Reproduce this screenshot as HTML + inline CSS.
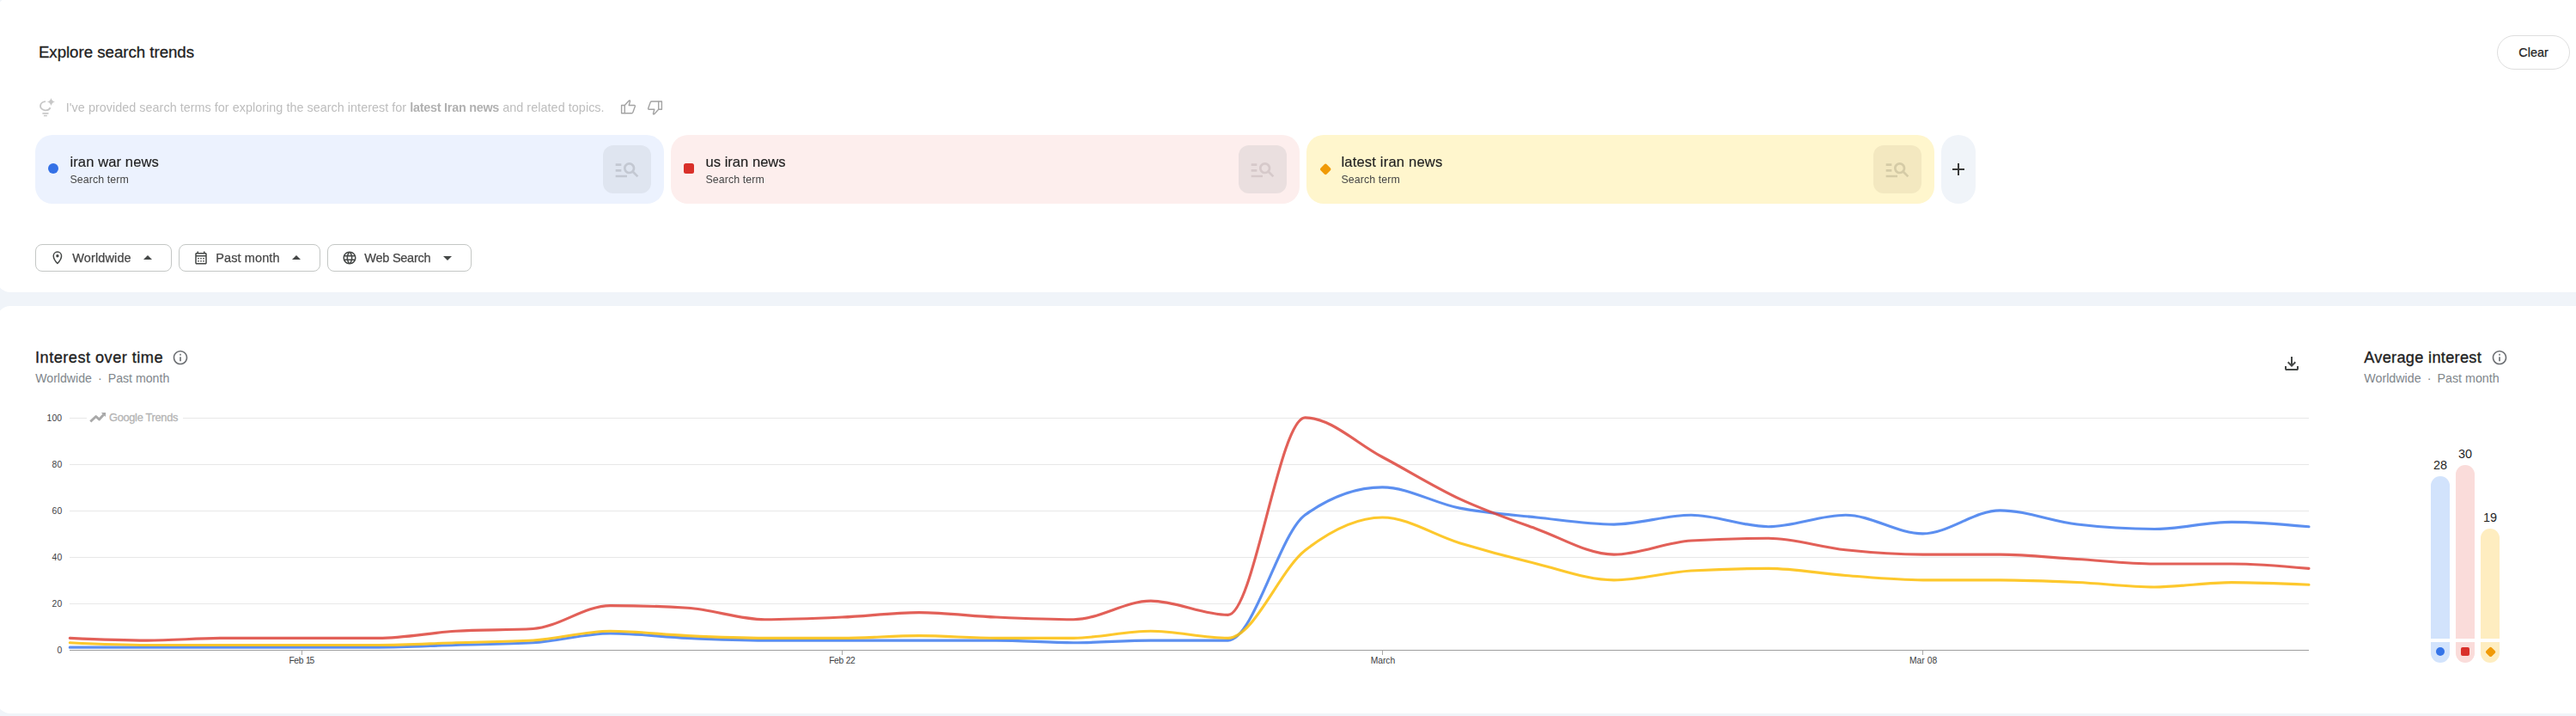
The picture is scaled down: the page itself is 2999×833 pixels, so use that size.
<!DOCTYPE html>
<html><head><meta charset="utf-8"><title>Trends</title>
<style>
html,body{margin:0;padding:0}
body{width:2999px;height:833px;overflow:hidden;background:#f0f4f9;position:relative;font-family:"Liberation Sans", sans-serif;}
.abs{position:absolute;display:block}
.t{position:absolute;white-space:nowrap;font-family:"Liberation Sans", sans-serif;}
b{font-weight:700;color:#b1b1b1;letter-spacing:-0.24px}
</style></head><body>
<div class="abs" style="left:-4.500px;top:-3px;width:3020px;height:343px;background:#fff;border-radius:16px"></div>
<div class="abs" style="left:-4.500px;top:356px;width:3020px;height:474px;background:#fff;border-radius:16px"></div>
<div class="t" style="top:52.37px;font-size:18.7px;line-height:18.7px;color:#1f1f1f;font-weight:400;letter-spacing:-0.03px;left:44.90px;-webkit-text-stroke:0.3px #1f1f1f;">Explore search trends</div>
<div class="abs" style="left:2907px;top:41px;width:83px;height:38px;border:1px solid #dedede;border-radius:20px"></div>
<div class="t" style="top:53.81px;font-size:14.4px;line-height:14.4px;color:#1f1f1f;font-weight:400;left:2749.50px;width:400px;text-align:center;-webkit-text-stroke:0.25px #1f1f1f;">Clear</div>
<svg class="abs" style="left:44px;top:110px" width="24" height="28" viewBox="0 0 24 28">
<g fill="none" stroke="#c7c7c7" stroke-linecap="butt">
<path stroke-width="1.9" d="M8.970 8.100 A6.050 5.100 0 1 0 14.600 15.300"/>
<path stroke-width="1.7" d="M5.400 21.950 H12.500"/><path stroke-width="1.5" d="M6.900 24.600 H10.800" />
</g>
<path fill="#c7c7c7" d="M15.460 3.900 Q16.300 7.650 20.060 8.500 Q16.300 9.350 15.460 13.100 Q14.620 9.350 10.860 8.500 Q14.620 7.650 15.460 3.900z"/>
</svg>
<div class="t" style="top:118.14px;font-size:14.36px;line-height:14.36px;color:#bdbdbd;font-weight:400;letter-spacing:0.02px;left:76.80px;filter:grayscale(1);"><span style="letter-spacing:0.04px">I&#39;ve provided search terms for exploring the search interest for </span><b>latest Iran news</b><span style="letter-spacing:0.06px"> and related topics.</span></div>
<svg class="abs" style="left:700px;top:100px" width="100" height="50" viewBox="0 0 100 50">
<g fill="none" stroke="#a3a3a3" stroke-width="1.400" stroke-linejoin="round">
<g><rect x="23.600" y="22.560" width="3.700" height="9.240"/><path d="M27.300 22.560 L32.400 17.100 Q33.500 16.500 33.500 17.700 L32.200 22.560 H38.300 Q39.700 22.560 39.250 24 L36.800 30.800 Q36.400 31.800 35.400 31.800 H27.300"/></g>
<g transform="translate(31.100,1.150) rotate(180 31.450 24.350)"><rect x="23.600" y="22.560" width="3.700" height="9.240"/><path d="M27.300 22.560 L32.400 17.100 Q33.500 16.500 33.500 17.700 L32.200 22.560 H38.300 Q39.700 22.560 39.250 24 L36.800 30.800 Q36.400 31.800 35.400 31.800 H27.300"/></g>
</g>
</svg>
<div class="abs" style="left:41px;top:157px;width:731.7px;height:80px;border-radius:20px;background:#ecf2fe"></div><div class="abs" style="left:56px;top:190px;width:12px;height:12px;border-radius:50%;background:#3471e6"></div><div class="t" style="top:180.95px;font-size:16.6px;line-height:16.6px;color:#1f1f1f;font-weight:400;letter-spacing:0.08px;left:81.50px;filter:grayscale(1);-webkit-text-stroke:0.15px #1f1f1f;">iran war news</div><div class="t" style="top:202.80px;font-size:12.4px;line-height:12.4px;color:#444746;font-weight:400;letter-spacing:0.09px;left:81.50px;filter:grayscale(1);">Search term</div><div class="abs" style="left:702px;top:169px;width:56px;height:56px;border-radius:12px;background:#dfe5f0"></div><svg class="abs" style="left:713.5px;top:180.7px" width="32" height="32" viewBox="0 0 24 24"><path fill="#c3c8d2"  d="M7 9H2V7h5v2zm0 3H2v2h5v-2zm13.590 7-3.830-3.830c-.8.520-1.740.830-2.760.830-2.760 0-5-2.240-5-5s2.240-5 5-5 5 2.240 5 5c0 1.020-.310 1.960-.830 2.750L22 17.590 20.590 19zM17 11c0-1.650-1.350-3-3-3s-3 1.350-3 3 1.350 3 3 3 3-1.350 3-3zM2 19h10v-2H2v2z"/></svg>
<div class="abs" style="left:781px;top:157px;width:731.7px;height:80px;border-radius:20px;background:#fdeeed"></div><div class="abs" style="left:796px;top:190px;width:12px;height:12px;border-radius:2.5px;background:#d9302a"></div><div class="t" style="top:180.95px;font-size:16.6px;line-height:16.6px;color:#1f1f1f;font-weight:400;left:821.50px;filter:grayscale(1);-webkit-text-stroke:0.15px #1f1f1f;">us iran news</div><div class="t" style="top:202.80px;font-size:12.4px;line-height:12.4px;color:#444746;font-weight:400;letter-spacing:0.09px;left:821.50px;filter:grayscale(1);">Search term</div><div class="abs" style="left:1442px;top:169px;width:56px;height:56px;border-radius:12px;background:#eadfdf"></div><svg class="abs" style="left:1453.5px;top:180.7px" width="32" height="32" viewBox="0 0 24 24"><path fill="#d6c9ca"  d="M7 9H2V7h5v2zm0 3H2v2h5v-2zm13.590 7-3.830-3.830c-.8.520-1.740.830-2.760.830-2.760 0-5-2.240-5-5s2.240-5 5-5 5 2.240 5 5c0 1.020-.310 1.960-.830 2.750L22 17.590 20.590 19zM17 11c0-1.650-1.350-3-3-3s-3 1.350-3 3 1.350 3 3 3 3-1.350 3-3zM2 19h10v-2H2v2z"/></svg>
<div class="abs" style="left:1521px;top:157px;width:731px;height:80px;border-radius:20px;background:#fff6cd"></div><div class="abs" style="left:1537.800px;top:191.800px;width:10.400px;height:10.400px;border-radius:2px;background:#f09a07;transform:rotate(45deg)"></div><div class="t" style="top:180.95px;font-size:16.6px;line-height:16.6px;color:#1f1f1f;font-weight:400;letter-spacing:0.17px;left:1561.40px;filter:grayscale(1);-webkit-text-stroke:0.15px #1f1f1f;">latest iran news</div><div class="t" style="top:202.80px;font-size:12.4px;line-height:12.4px;color:#444746;font-weight:400;letter-spacing:0.09px;left:1561.40px;filter:grayscale(1);">Search term</div><div class="abs" style="left:2181px;top:169px;width:56px;height:56px;border-radius:12px;background:#f3e8c0"></div><svg class="abs" style="left:2192.5px;top:180.7px" width="32" height="32" viewBox="0 0 24 24"><path fill="#d5cba6"  d="M7 9H2V7h5v2zm0 3H2v2h5v-2zm13.590 7-3.830-3.830c-.8.520-1.740.830-2.760.830-2.760 0-5-2.240-5-5s2.240-5 5-5 5 2.240 5 5c0 1.020-.310 1.960-.830 2.750L22 17.590 20.590 19zM17 11c0-1.650-1.350-3-3-3s-3 1.350-3 3 1.350 3 3 3 3-1.350 3-3zM2 19h10v-2H2v2z"/></svg>
<div class="abs" style="left:2260px;top:157px;width:40px;height:80px;border-radius:20px;background:#f0f4f9"></div>
<div class="abs" style="left:2273px;top:196.100px;width:14.200px;height:1.800px;background:#3a3a3a"></div>
<div class="abs" style="left:2279.200px;top:189.900px;width:1.800px;height:14.200px;background:#3a3a3a"></div>
<div class="abs" style="left:41px;top:284px;width:157px;height:30px;border:1px solid #c4c7c5;border-radius:8px"></div><svg class="abs" style="left:58px;top:290px" width="18" height="20" viewBox="58 290 18 20"><path fill="none" stroke="#444746" stroke-width="1.5" stroke-linejoin="round" d="M66.900 306.500 C63.300 302.700 62.250 300.200 62.250 297.700 A4.650 4.650 0 1 1 71.550 297.700 C71.550 300.200 70.500 302.700 66.900 306.500Z"/><circle cx="66.900" cy="297.800" r="1.700" fill="#444746"/></svg><div class="t" style="top:292.53px;font-size:14.5px;line-height:14.5px;color:#444746;font-weight:400;letter-spacing:0.12px;left:84.30px;-webkit-text-stroke:0.25px #444746;filter:grayscale(1);">Worldwide</div><svg class="abs" style="left:160px;top:288.2px" width="24" height="24" viewBox="0 0 24 24"><path fill="#444746"  d="M7 14l5-5 5 5z"/></svg>
<div class="abs" style="left:208px;top:284px;width:163px;height:30px;border:1px solid #c4c7c5;border-radius:8px"></div><svg class="abs" style="left:225px;top:291px" width="18" height="18" viewBox="0 0 24 24"><path fill="#444746"  d="M19 4h-1V2h-2v2H8V2H6v2H5c-1.110 0-1.990.9-1.990 2L3 20c0 1.100.890 2 2 2h14c1.100 0 2-.9 2-2V6c0-1.100-.9-2-2-2zm0 16H5V10h14v10zm0-12H5V6h14v2zM9 14H7v-2h2v2zm4 0h-2v-2h2v2zm4 0h-2v-2h2v2zm-8 4H7v-2h2v2zm4 0h-2v-2h2v2zm4 0h-2v-2h2v2z"/></svg><div class="t" style="top:292.53px;font-size:14.5px;line-height:14.5px;color:#444746;font-weight:400;letter-spacing:0.1px;left:251.30px;-webkit-text-stroke:0.25px #444746;filter:grayscale(1);">Past month</div><svg class="abs" style="left:333px;top:288.2px" width="24" height="24" viewBox="0 0 24 24"><path fill="#444746"  d="M7 14l5-5 5 5z"/></svg>
<div class="abs" style="left:381px;top:284px;width:166px;height:30px;border:1px solid #c4c7c5;border-radius:8px"></div><svg class="abs" style="left:398px;top:291px" width="18" height="18" viewBox="0 0 24 24"><path fill="#444746"  d="M11.990 2C6.470 2 2 6.480 2 12s4.470 10 9.990 10C17.520 22 22 17.520 22 12S17.520 2 11.990 2zm6.930 6h-2.950c-.320-1.250-.780-2.450-1.380-3.560 1.840.630 3.370 1.910 4.330 3.560zM12 4.040c.830 1.200 1.480 2.530 1.910 3.960h-3.820c.430-1.430 1.080-2.760 1.910-3.960zM4.260 14C4.100 13.360 4 12.690 4 12s.1-1.360.260-2h3.380c-.080.660-.140 1.320-.140 2 0 .680.060 1.340.140 2H4.260zm.820 2h2.950c.320 1.250.780 2.450 1.380 3.560-1.840-.630-3.370-1.900-4.330-3.560zm2.950-8H5.080c.960-1.660 2.490-2.930 4.330-3.560C8.810 5.550 8.350 6.750 8.030 8zM12 19.960c-.830-1.200-1.480-2.530-1.910-3.960h3.820c-.430 1.430-1.080 2.760-1.910 3.960zM14.340 14H9.660c-.090-.660-.160-1.320-.160-2 0-.680.070-1.350.160-2h4.680c.090.650.160 1.320.160 2 0 .680-.070 1.340-.160 2zm.250 5.560c.6-1.110 1.060-2.310 1.380-3.560h2.950c-.960 1.650-2.490 2.930-4.330 3.560zM16.360 14c.080-.660.140-1.320.140-2 0-.680-.060-1.340-.140-2h3.380c.160.640.260 1.310.260 2s-.1 1.360-.260 2h-3.380z"/></svg><div class="t" style="top:292.53px;font-size:14.5px;line-height:14.5px;color:#444746;font-weight:400;letter-spacing:-0.25px;left:424.30px;-webkit-text-stroke:0.25px #444746;filter:grayscale(1);">Web Search</div><svg class="abs" style="left:509px;top:288.2px" width="24" height="24" viewBox="0 0 24 24"><path fill="#444746"  d="M7 10l5 5 5-5z"/></svg>
<div class="t" style="top:407.19px;font-size:18.2px;line-height:18.2px;color:#1f1f1f;font-weight:400;letter-spacing:0.47px;left:41.10px;-webkit-text-stroke:0.35px #1f1f1f;">Interest over time</div>
<svg class="abs" style="left:199.75px;top:406.1px" width="20" height="20" viewBox="0 0 24 24"><path fill="#6e7175"  d="M11 7h2v2h-2zm0 4h2v6h-2zm1-9C6.480 2 2 6.480 2 12s4.480 10 10 10 10-4.480 10-10S17.520 2 12 2zm0 18c-4.410 0-8-3.590-8-8s3.590-8 8-8 8 3.590 8 8-3.590 8-8 8z"/></svg>
<div class="t" style="top:433.02px;font-size:14.15px;line-height:14.15px;color:#80868b;font-weight:400;left:41.20px;">Worldwide<span style="display:inline-block;width:18.800px;text-align:center">·</span>Past month</div>
<svg class="abs" style="left:2656px;top:411px" width="24" height="24" viewBox="0 0 24 24"><path fill="#444746"  d="M12 16l-5-5 1.400-1.450 2.600 2.600V4h2v8.150l2.600-2.600L17 11zm-6 4q-.825 0-1.413-.587T4 18v-3h2v3h12v-3h2v3q0 .825-.587 1.413T18 20z"/></svg>
<div class="t" style="top:407.19px;font-size:18.2px;line-height:18.2px;color:#1f1f1f;font-weight:400;letter-spacing:0.3px;left:2752.20px;-webkit-text-stroke:0.35px #1f1f1f;">Average interest</div>
<svg class="abs" style="left:2899.9px;top:405.8px" width="20" height="20" viewBox="0 0 24 24"><path fill="#6e7175"  d="M11 7h2v2h-2zm0 4h2v6h-2zm1-9C6.480 2 2 6.480 2 12s4.480 10 10 10 10-4.480 10-10S17.520 2 12 2zm0 18c-4.410 0-8-3.590-8-8s3.590-8 8-8 8 3.590 8 8-3.590 8-8 8z"/></svg>
<div class="t" style="top:433.14px;font-size:14.25px;line-height:14.25px;color:#80868b;font-weight:400;left:2752.30px;">Worldwide<span style="display:inline-block;width:19px;text-align:center">·</span>Past month</div>
<svg class="abs" style="left:0;top:356px" width="2999" height="477" viewBox="0 356 2999 477">
<rect x="81" y="702.00" width="2607" height="1" fill="#e8e8e8"/>
<rect x="81" y="648.00" width="2607" height="1" fill="#e8e8e8"/>
<rect x="81" y="594.00" width="2607" height="1" fill="#e8e8e8"/>
<rect x="81" y="540.00" width="2607" height="1" fill="#e8e8e8"/>
<rect x="81" y="486.00" width="20" height="1" fill="#e8e8e8"/>
<rect x="213" y="486.00" width="2475" height="1" fill="#e8e8e8"/>
<rect x="81" y="756.00" width="2607" height="1" fill="#9e9e9e"/>
<rect x="351" y="757.00" width="1" height="5" fill="#a8a8a8"/>
<rect x="980" y="757.00" width="1" height="5" fill="#a8a8a8"/>
<rect x="1609" y="757.00" width="1" height="5" fill="#a8a8a8"/>
<rect x="2238" y="757.00" width="1" height="5" fill="#a8a8a8"/>
<path d="M81.30,753.15C111.26,753.15 141.22,753.15 171.19,753.15C201.15,753.15 231.11,753.15 261.07,753.15C291.03,753.15 321.00,753.15 350.96,753.15C380.92,753.15 410.88,753.15 440.84,753.15C470.81,753.15 500.77,751.35 530.73,750.45C560.69,749.55 590.66,749.55 620.62,747.75C650.58,745.95 680.54,736.95 710.50,736.95C740.47,736.95 770.43,741.00 800.39,742.35C830.35,743.70 860.31,745.05 890.28,745.05C920.24,745.05 950.20,745.05 980.16,745.05C1010.12,745.05 1040.09,745.05 1070.05,745.05C1100.01,745.05 1129.97,745.05 1159.93,745.05C1189.90,745.05 1219.86,747.75 1249.82,747.75C1279.78,747.75 1309.74,745.05 1339.71,745.05C1369.67,745.05 1399.63,745.05 1429.59,745.05C1459.56,745.05 1489.52,620.40 1519.48,598.98C1549.44,577.56 1579.40,566.85 1609.37,566.85C1639.33,566.85 1669.29,585.30 1699.25,591.15C1729.21,597.00 1759.18,598.80 1789.14,601.95C1819.10,605.10 1849.06,610.05 1879.02,610.05C1908.99,610.05 1938.95,599.25 1968.91,599.25C1998.87,599.25 2028.83,612.75 2058.80,612.75C2088.76,612.75 2118.72,599.25 2148.68,599.25C2178.64,599.25 2208.61,620.85 2238.57,620.85C2268.53,620.85 2298.49,593.85 2328.46,593.85C2358.42,593.85 2388.38,606.45 2418.34,610.05C2448.30,613.65 2478.27,615.45 2508.23,615.45C2538.19,615.45 2568.15,607.35 2598.11,607.35C2628.08,607.35 2658.04,610.05 2688.00,612.75" fill="none" stroke="#407bed" stroke-width="3.15" stroke-opacity="0.85" stroke-linecap="round" stroke-linejoin="round"/>
<path d="M81.30,742.35C111.26,743.70 141.22,745.05 171.19,745.05C201.15,745.05 231.11,742.35 261.07,742.35C291.03,742.35 321.00,742.35 350.96,742.35C380.92,742.35 410.88,742.35 440.84,742.35C470.81,742.35 500.77,736.05 530.73,734.25C560.69,732.45 590.66,733.35 620.62,731.55C650.58,729.75 680.54,704.55 710.50,704.55C740.47,704.55 770.43,705.45 800.39,707.25C830.35,709.05 860.31,720.75 890.28,720.75C920.24,720.75 950.20,719.40 980.16,718.05C1010.12,716.70 1040.09,712.65 1070.05,712.65C1100.01,712.65 1129.97,716.70 1159.93,718.05C1189.90,719.40 1219.86,720.75 1249.82,720.75C1279.78,720.75 1309.74,699.15 1339.71,699.15C1369.67,699.15 1399.63,715.35 1429.59,715.35C1459.56,715.35 1489.52,485.85 1519.48,485.85C1549.44,485.85 1579.40,516.00 1609.37,531.75C1639.33,547.50 1669.29,566.40 1699.25,580.35C1729.21,594.30 1759.18,604.65 1789.14,615.45C1819.10,626.25 1849.06,645.15 1879.02,645.15C1908.99,645.15 1938.95,630.75 1968.91,628.95C1998.87,627.15 2028.83,626.25 2058.80,626.25C2088.76,626.25 2118.72,636.60 2148.68,639.75C2178.64,642.90 2208.61,645.15 2238.57,645.15C2268.53,645.15 2298.49,645.15 2328.46,645.15C2358.42,645.15 2388.38,648.75 2418.34,650.55C2448.30,652.35 2478.27,655.95 2508.23,655.95C2538.19,655.95 2568.15,655.95 2598.11,655.95C2628.08,655.95 2658.04,658.65 2688.00,661.35" fill="none" stroke="#dd443b" stroke-width="3.15" stroke-opacity="0.85" stroke-linecap="round" stroke-linejoin="round"/>
<path d="M81.30,747.75C111.26,749.10 141.22,750.45 171.19,750.45C201.15,750.45 231.11,750.45 261.07,750.45C291.03,750.45 321.00,750.45 350.96,750.45C380.92,750.45 410.88,750.45 440.84,750.45C470.81,750.45 500.77,748.65 530.73,747.75C560.69,746.85 590.66,746.85 620.62,745.05C650.58,743.25 680.54,734.25 710.50,734.25C740.47,734.25 770.43,738.30 800.39,739.65C830.35,741.00 860.31,742.35 890.28,742.35C920.24,742.35 950.20,742.35 980.16,742.35C1010.12,742.35 1040.09,739.65 1070.05,739.65C1100.01,739.65 1129.97,742.35 1159.93,742.35C1189.90,742.35 1219.86,742.35 1249.82,742.35C1279.78,742.35 1309.74,734.25 1339.71,734.25C1369.67,734.25 1399.63,742.35 1429.59,742.35C1459.56,742.35 1489.52,663.69 1519.48,640.29C1549.44,616.89 1579.40,601.95 1609.37,601.95C1639.33,601.95 1669.29,622.65 1699.25,631.65C1729.21,640.65 1759.18,648.75 1789.14,655.95C1819.10,663.15 1849.06,674.85 1879.02,674.85C1908.99,674.85 1938.95,665.85 1968.91,664.05C1998.87,662.25 2028.83,661.35 2058.80,661.35C2088.76,661.35 2118.72,667.20 2148.68,669.45C2178.64,671.70 2208.61,674.85 2238.57,674.85C2268.53,674.85 2298.49,674.85 2328.46,674.85C2358.42,674.85 2388.38,676.20 2418.34,677.55C2448.30,678.90 2478.27,682.95 2508.23,682.95C2538.19,682.95 2568.15,677.55 2598.11,677.55C2628.08,677.55 2658.04,678.90 2688.00,680.25" fill="none" stroke="#fdbe08" stroke-width="3.15" stroke-opacity="0.85" stroke-linecap="round" stroke-linejoin="round"/>
<g><path fill="none" stroke="#a9a9a9" stroke-width="2.9" stroke-linejoin="round" stroke-linecap="butt" d="M105.300 490.500 L111.700 484.500 L115.500 488.000 L120.800 482.200"/><path fill="#a9a9a9" d="M117.800 480.100 H123.050 V485.100 Z"/></g>
</svg>
<div class="t" style="top:751.60px;font-size:10.4px;line-height:10.4px;color:#3c4043;font-weight:400;letter-spacing:0.15px;left:-327.70px;width:400px;text-align:right;">0</div>
<div class="t" style="top:697.60px;font-size:10.4px;line-height:10.4px;color:#3c4043;font-weight:400;letter-spacing:0.15px;left:-327.70px;width:400px;text-align:right;">20</div>
<div class="t" style="top:643.60px;font-size:10.4px;line-height:10.4px;color:#3c4043;font-weight:400;letter-spacing:0.15px;left:-327.70px;width:400px;text-align:right;">40</div>
<div class="t" style="top:589.60px;font-size:10.4px;line-height:10.4px;color:#3c4043;font-weight:400;letter-spacing:0.15px;left:-327.70px;width:400px;text-align:right;">60</div>
<div class="t" style="top:535.60px;font-size:10.4px;line-height:10.4px;color:#3c4043;font-weight:400;letter-spacing:0.15px;left:-327.70px;width:400px;text-align:right;">80</div>
<div class="t" style="top:481.60px;font-size:10.4px;line-height:10.4px;color:#3c4043;font-weight:400;letter-spacing:0.15px;left:-327.70px;width:400px;text-align:right;">100</div>
<div class="t" style="top:764.28px;font-size:10.3px;line-height:10.3px;color:#3c4043;font-weight:400;left:150.80px;width:400px;text-align:center;"><span style="letter-spacing:-0.35px">Feb</span> <span style="letter-spacing:-1.1px">15</span></div>
<div class="t" style="top:764.28px;font-size:10.3px;line-height:10.3px;color:#3c4043;font-weight:400;left:780.20px;width:400px;text-align:center;"><span style="letter-spacing:-0.35px">Feb</span> <span style="letter-spacing:-0.5px">22</span></div>
<div class="t" style="top:764.28px;font-size:10.3px;line-height:10.3px;color:#3c4043;font-weight:400;letter-spacing:-0.05px;left:1409.90px;width:400px;text-align:center;">March</div>
<div class="t" style="top:764.28px;font-size:10.3px;line-height:10.3px;color:#3c4043;font-weight:400;letter-spacing:0.05px;left:2039.10px;width:400px;text-align:center;">Mar 08</div>
<div class="t" style="top:479.76px;font-size:12.8px;line-height:12.8px;color:#b4b4b4;font-weight:400;letter-spacing:-0.3px;left:127.00px;-webkit-text-stroke:0.3px #b4b4b4;">Google Trends</div>
<div class="abs" style="left:2830px;top:553.6px;width:22px;height:189.39999999999998px;border-radius:11px 11px 0 0;background:#d2e3fc"></div><div class="abs" style="left:2830px;top:747px;width:22px;height:24px;border-radius:0 0 11px 11px;background:#d2e3fc"></div><div class="abs" style="left:2836px;top:753px;width:10px;height:10px;border-radius:50%;background:#3574e8"></div><div class="t" style="top:534.11px;font-size:14.4px;line-height:14.4px;color:#1f1f1f;font-weight:400;left:2641.00px;width:400px;text-align:center;">28</div>
<div class="abs" style="left:2859px;top:540.5px;width:22px;height:202.5px;border-radius:11px 11px 0 0;background:#fadcda"></div><div class="abs" style="left:2859px;top:747px;width:22px;height:24px;border-radius:0 0 11px 11px;background:#fadcda"></div><div class="abs" style="left:2865px;top:753px;width:10px;height:10px;border-radius:2px;background:#d9302a"></div><div class="t" style="top:521.01px;font-size:14.4px;line-height:14.4px;color:#1f1f1f;font-weight:400;left:2670.00px;width:400px;text-align:center;">30</div>
<div class="abs" style="left:2888px;top:614.5px;width:22px;height:128.5px;border-radius:11px 11px 0 0;background:#feedc0"></div><div class="abs" style="left:2888px;top:747px;width:22px;height:24px;border-radius:0 0 11px 11px;background:#feedc0"></div><div class="abs" style="left:2895.400px;top:754.400px;width:9.200px;height:9.200px;border-radius:2px;background:#f09a07;transform:rotate(45deg)"></div><div class="t" style="top:595.01px;font-size:14.4px;line-height:14.4px;color:#1f1f1f;font-weight:400;left:2699.00px;width:400px;text-align:center;">19</div>
</body></html>
